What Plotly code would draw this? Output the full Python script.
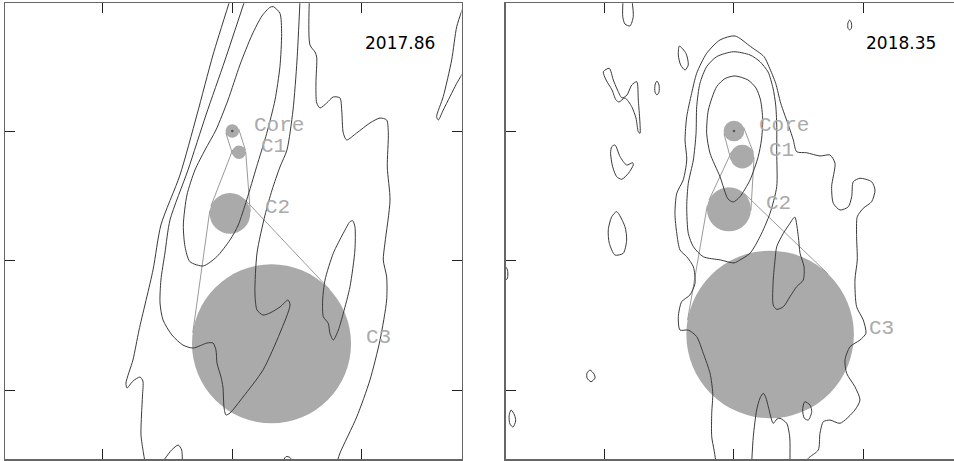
import math
import plotly.graph_objects as go

# ---------------- model-fit components (relative position, mas) ----------------
COMP_NAMES = ["Core", "C1", "C2", "C3"]
EP1_X = [0.0, 0.052, -0.018, 0.303]
EP1_Y = [0.0, -0.164, -0.636, -1.643]
EP1_R = [0.052, 0.052, 0.157, 0.614]
EP2_X = [0.0, 0.064, -0.039, 0.279]
EP2_Y = [0.0, -0.198, -0.605, -1.571]
EP2_R = [0.080, 0.091, 0.170, 0.647]
EPOCHS = ["2017.86", "2018.35"]
TICKS_X = [-1, 0, 1]
TICKS_Y = [0, -1, -2]

# ---------------- contours, epoch 2017.86 ----------------
L1W_X = [-0.018, -0.149, -0.273, -0.404, -0.551, -0.612, -0.720, -0.767, -0.821, -0.813, -0.767, -0.713, -0.690, -0.693, -0.701, -0.705, -0.686, -0.674]
L1W_Y = [1.01, 0.587, 0.124, -0.340, -0.726, -1.073, -1.537, -1.768, -1.946, -1.985, -1.931, -1.900, -1.931, -2.039, -2.193, -2.347, -2.486, -2.556]
L1E_X = [0.595, 0.600, 0.639, 0.652, 0.646, 0.652, 0.678, 0.729, 0.780, 0.832, 0.845, 0.857, 0.883, 0.961, 1.063, 1.141, 1.192, 1.205, 1.197, 1.218, 1.179, 1.166, 1.192, 1.192, 1.141, 1.063, 0.961, 0.832, 0.809]
L1E_Y = [1.01, 0.664, 0.610, 0.571, 0.371, 0.216, 0.178, 0.216, 0.263, 0.255, 0.162, -0.015, -0.069, -0.015, 0.062, 0.100, 0.085, -0.015, -0.278, -0.533, -0.865, -0.996, -1.127, -1.305, -1.614, -1.923, -2.208, -2.486, -2.556]
L2_X = [0.098, -0.056, -0.203, -0.342, -0.481, -0.520, -0.551, -0.558, -0.535, -0.466, -0.381, -0.303, -0.195, -0.149, -0.126, -0.118, -0.087, -0.072, -0.064, -0.049, -0.018, 0.083, 0.237, 0.368, 0.446, 0.431, 0.368, 0.291, 0.237, 0.191, 0.175, 0.191, 0.253, 0.307, 0.368, 0.422, 0.469, 0.500, 0.523]
L2_Y = [1.012, 0.548, 0.124, -0.301, -0.687, -0.942, -1.151, -1.328, -1.459, -1.575, -1.653, -1.676, -1.637, -1.637, -1.691, -1.792, -1.900, -1.977, -2.131, -2.193, -2.178, -2.054, -1.846, -1.560, -1.344, -1.305, -1.359, -1.405, -1.421, -1.382, -1.251, -0.942, -0.649, -0.456, -0.278, -0.147, 0.162, 0.548, 1.012]
L3_X = [0.317, 0.368, 0.381, 0.368, 0.330, 0.266, 0.188, 0.111, 0.046, -0.018, -0.120, -0.224, -0.327, -0.365, -0.378, -0.350, -0.288, -0.211, -0.126, -0.033, 0.059, 0.152, 0.229, 0.291, 0.317]
L3_Y = [0.960, 0.909, 0.754, 0.497, 0.239, -0.018, -0.276, -0.533, -0.726, -0.842, -0.971, -1.042, -1.009, -0.893, -0.726, -0.494, -0.301, -0.147, 0.008, 0.239, 0.510, 0.741, 0.888, 0.955, 0.960]
L4_X = [0.930, 0.947, 0.947, 0.909, 0.857, 0.819, 0.780, 0.754, 0.741, 0.703, 0.698, 0.716, 0.780, 0.857, 0.909, 0.930]
L4_Y = [-0.693, -0.739, -0.919, -1.202, -1.408, -1.537, -1.614, -1.562, -1.485, -1.434, -1.305, -1.151, -0.944, -0.790, -0.700, -0.693]
L5_X = [1.78, 1.733, 1.694, 1.629, 1.578, 1.591, 1.629, 1.681, 1.733, 1.78]
L5_Y = [0.95, 0.805, 0.548, 0.265, 0.110, 0.085, 0.162, 0.265, 0.368, 0.448]
L6_X = [-0.533, -0.468, -0.417, -0.391, -0.386]
L6_Y = [-2.548, -2.463, -2.425, -2.463, -2.548]
L7_X = [0.392, 0.415, 0.446, 0.461]
L7_Y = [-2.548, -2.514, -2.521, -2.548]

# ---------------- contours, epoch 2018.35 ----------------
R1_X = [-0.139, -0.154, -0.172, -0.172, -0.164, -0.185, -0.237, -0.288, -0.353, -0.417, -0.430, -0.404, -0.340, -0.301, -0.314, -0.365, -0.417, -0.442, -0.456, -0.442, -0.392, -0.365, -0.378, -0.365, -0.327, -0.288, -0.211, -0.108, 0.008, 0.129, 0.232, 0.270, 0.322, 0.361, 0.425, 0.458, 0.484, 0.561, 0.664, 0.741, 0.780, 0.754, 0.767, 0.819, 0.883, 0.909, 0.921, 0.973, 1.063, 1.089, 1.063, 0.998, 0.952, 0.947, 0.952, 0.934, 0.947, 0.998, 1.019, 0.973, 0.896, 0.857, 0.870, 0.934, 0.973, 0.934, 0.819, 0.741, 0.690, 0.664, 0.651, 0.574, 0.561]
R1_Y = [-2.556, -2.463, -2.361, -2.180, -2.025, -1.871, -1.717, -1.588, -1.537, -1.537, -1.434, -1.318, -1.266, -1.176, -1.048, -0.971, -0.919, -0.790, -0.636, -0.481, -0.378, -0.224, -0.069, 0.110, 0.291, 0.446, 0.600, 0.703, 0.734, 0.651, 0.574, 0.497, 0.368, 0.214, 0.031, -0.069, -0.160, -0.168, -0.193, -0.185, -0.249, -0.430, -0.558, -0.610, -0.585, -0.507, -0.392, -0.365, -0.392, -0.456, -0.546, -0.597, -0.662, -0.816, -0.996, -1.151, -1.357, -1.459, -1.562, -1.614, -1.666, -1.768, -1.871, -1.975, -2.077, -2.154, -2.257, -2.232, -2.245, -2.334, -2.463, -2.527, -2.556]
R2_X = [-0.005, 0.124, 0.201, 0.263, 0.301, 0.322, 0.330, 0.330, 0.330, 0.278, 0.201, 0.124, 0.046, 0.000, -0.103, -0.237, -0.314, -0.353, -0.365, -0.353, -0.314, -0.293, -0.288, -0.263, -0.211, -0.134, -0.005]
R2_Y = [0.612, 0.587, 0.535, 0.456, 0.332, 0.201, 0.046, -0.172, -0.430, -0.636, -0.816, -0.944, -0.996, -1.019, -0.996, -0.971, -0.893, -0.790, -0.585, -0.404, -0.224, -0.018, 0.188, 0.368, 0.497, 0.574, 0.612]
R3_X = [0.008, 0.108, 0.170, 0.205, 0.222, 0.212, 0.187, 0.124, 0.046, -0.005, -0.046, -0.108, -0.185, -0.211, -0.198, -0.134, -0.069, 0.008]
R3_Y = [0.425, 0.394, 0.332, 0.239, 0.085, -0.069, -0.198, -0.378, -0.507, -0.548, -0.525, -0.353, -0.172, -0.018, 0.162, 0.342, 0.405, 0.425]
R4_X = [0.471, 0.497, 0.510, 0.541, 0.535, 0.484, 0.432, 0.381, 0.330, 0.303, 0.303, 0.317, 0.330, 0.381, 0.432, 0.458, 0.471]
R4_Y = [-0.666, -0.816, -0.944, -1.048, -1.151, -1.202, -1.280, -1.357, -1.377, -1.344, -1.151, -0.996, -0.893, -0.790, -0.713, -0.674, -0.666]
R5_X = [0.137, 0.149, 0.175, 0.201, 0.226, 0.247, 0.265, 0.303, 0.332, 0.355, 0.407, 0.425, 0.432, 0.432]
R5_Y = [-2.556, -2.361, -2.154, -2.062, -2.025, -2.062, -2.129, -2.257, -2.224, -2.218, -2.257, -2.324, -2.386, -2.556]
S1_X = [-0.857, -0.859, -0.842, -0.803, -0.778, -0.788]
S1_Y = [1.012, 0.883, 0.826, 0.811, 0.883, 1.012]
S2_X = [-0.422, -0.371, -0.353, -0.378, -0.412, -0.430, -0.422]
S2_Y = [0.656, 0.600, 0.510, 0.471, 0.510, 0.587, 0.656]
S3_X = [-0.595, -0.579, -0.579, -0.595, -0.610, -0.610, -0.595]
S3_Y = [0.386, 0.355, 0.301, 0.278, 0.301, 0.355, 0.386]
S4_X = [-1.009, -0.963, -0.932, -0.903, -0.865, -0.826, -0.790, -0.751, -0.739, -0.726, -0.739, -0.757, -0.790, -0.842, -0.888, -0.911, -0.942, -0.988, -1.009]
S4_Y = [0.458, 0.484, 0.394, 0.324, 0.255, 0.278, 0.355, 0.381, 0.239, -0.018, -0.005, 0.100, 0.188, 0.255, 0.224, 0.239, 0.317, 0.394, 0.458]
S5_X = [-0.944, -0.919, -0.880, -0.829, -0.782, -0.778, -0.816, -0.867, -0.906, -0.937, -0.953, -0.944]
S5_Y = [-0.121, -0.108, -0.198, -0.263, -0.245, -0.263, -0.327, -0.373, -0.353, -0.276, -0.172, -0.121]
S6_X = [-0.906, -0.842, -0.829, -0.855, -0.919, -0.963, -0.971, -0.944, -0.906]
S6_Y = [-0.623, -0.739, -0.842, -0.944, -0.958, -0.867, -0.764, -0.662, -0.623]
S7_X = [0.893, 0.907, 0.907, 0.893, 0.880, 0.880, 0.893]
S7_Y = [0.857, 0.834, 0.795, 0.780, 0.795, 0.834, 0.857]
S8_X = [-1.112, -1.081, -1.073, -1.104, -1.135, -1.135, -1.112]
S8_Y = [-1.846, -1.876, -1.907, -1.936, -1.907, -1.869, -1.846]
S9_X = [-1.768, -1.749, -1.749, -1.768]
S9_Y = [-1.042, -1.073, -1.135, -1.158]
S10_X = [-1.722, -1.695, -1.686, -1.707, -1.730, -1.737, -1.722]
S10_Y = [-2.154, -2.193, -2.239, -2.286, -2.263, -2.201, -2.154]
S11_X = [0.548, 0.587, 0.600, 0.574, 0.543, 0.530, 0.541, 0.548]
S11_Y = [-2.090, -2.116, -2.168, -2.232, -2.218, -2.154, -2.098, -2.090]

# ---------------- styling ----------------
CONTOUR_COLOR = "#3a3a3a"
COMP_COLOR = "#aaaaaa"
LINK_COLOR = "#9a9a9a"
LABEL_GAP = 0.10
LABEL_DY = 0.045

panels = [
    dict(xa="x", ya="y", cx=EP1_X, cy=EP1_Y, cr=EP1_R, epoch=EPOCHS[0], ex=437 / 954,
         contours=[(L1W_X, L1W_Y), (L1E_X, L1E_Y), (L2_X, L2_Y), (L3_X, L3_Y), (L4_X, L4_Y),
                   (L5_X, L5_Y), (L6_X, L6_Y), (L7_X, L7_Y)]),
    dict(xa="x2", ya="y2", cx=EP2_X, cy=EP2_Y, cr=EP2_R, epoch=EPOCHS[1], ex=938 / 954,
         contours=[(R1_X, R1_Y), (R2_X, R2_Y), (R3_X, R3_Y), (R4_X, R4_Y), (R5_X, R5_Y),
                   (S1_X, S1_Y), (S2_X, S2_Y), (S3_X, S3_Y), (S4_X, S4_Y), (S5_X, S5_Y),
                   (S6_X, S6_Y), (S7_X, S7_Y), (S8_X, S8_Y), (S9_X, S9_Y), (S10_X, S10_Y),
                   (S11_X, S11_Y)]),
]


def outer_tangents(x1, y1, r1, x2, y2, r2):
    dx, dy = x2 - x1, y2 - y1
    d = math.hypot(dx, dy)
    ux, uy = dx / d, dy / d
    c = (r1 - r2) / d
    s = math.sqrt(max(0.0, 1 - c * c))
    out = []
    for sign in (1, -1):
        nx = c * ux - sign * s * uy
        ny = c * uy + sign * s * ux
        out.append(((x1 + r1 * nx, y1 + r1 * ny), (x2 + r2 * nx, y2 + r2 * ny)))
    return out


fig = go.Figure()
annotations = []
for p in panels:
    xa, ya = p["xa"], p["ya"]
    for x, y, r in zip(p["cx"], p["cy"], p["cr"]):
        fig.add_shape(type="circle", xref=xa, yref=ya, x0=x - r, x1=x + r, y0=y - r, y1=y + r,
                      fillcolor=COMP_COLOR, line=dict(width=0), layer="below")
    lx, ly = [], []
    for i in range(len(p["cx"]) - 1):
        for (a, b) in outer_tangents(p["cx"][i], p["cy"][i], p["cr"][i],
                                     p["cx"][i + 1], p["cy"][i + 1], p["cr"][i + 1]):
            lx += [a[0], b[0], None]
            ly += [a[1], b[1], None]
    fig.add_trace(go.Scatter(x=lx, y=ly, xaxis=xa, yaxis=ya, mode="lines",
                             line=dict(color=LINK_COLOR, width=1), hoverinfo="skip", showlegend=False))
    for cxs, cys in p["contours"]:
        fig.add_trace(go.Scatter(x=cxs, y=cys, xaxis=xa, yaxis=ya, mode="lines",
                                 line=dict(color=CONTOUR_COLOR, width=1, shape="spline", smoothing=0.7),
                                 hoverinfo="skip", showlegend=False))
    fig.add_trace(go.Scatter(x=[p["cx"][0]], y=[p["cy"][0]], xaxis=xa, yaxis=ya, mode="markers",
                             marker=dict(color="#555555", size=2.5), hoverinfo="skip", showlegend=False))
    for name, x, y, r in zip(COMP_NAMES, p["cx"], p["cy"], p["cr"]):
        annotations.append(dict(xref=xa, yref=ya, x=x + r + LABEL_GAP, y=y + LABEL_DY, text=name,
                                showarrow=False, xanchor="left", yanchor="middle",
                                font=dict(family="Liberation Mono", size=21, color=COMP_COLOR)))
    annotations.append(dict(xref="paper", yref="paper", x=p["ex"], y=1 - 43 / 461, text=p["epoch"],
                            showarrow=False, xanchor="right", yanchor="middle",
                            font=dict(family="DejaVu Sans", size=17, color="#000000")))

axis_common = dict(showgrid=False, zeroline=False, showticklabels=False, ticks="inside",
                   ticklen=10, tickwidth=1, tickcolor="#222222", showline=True,
                   linecolor="#666666", linewidth=1.5, fixedrange=True)
ydom = [1 - 459.3 / 461, 1 - 3.3 / 461]

fig.update_layout(
    width=954, height=461,
    margin=dict(l=0, r=0, t=0, b=0),
    paper_bgcolor="white", plot_bgcolor="white",
    showlegend=False,
    hovermode=False,
    annotations=annotations,
    xaxis=dict(axis_common, domain=[5 / 954, 461.5 / 954], range=[-1.755, 1.770],
               tickvals=TICKS_X, mirror="ticks", anchor="y"),
    yaxis=dict(axis_common, domain=ydom, range=[-2.535, 0.986],
               tickvals=TICKS_Y, mirror="ticks", anchor="x"),
    xaxis2=dict(axis_common, domain=[505.7 / 954, 1.0], range=[-1.763, 1.699],
                tickvals=TICKS_X, mirror="ticks", anchor="y2"),
    yaxis2=dict(axis_common, domain=ydom, range=[-2.535, 0.986],
                tickvals=TICKS_Y, mirror=False, anchor="x2"),
)

fig.write_html("out.html", config={"displayModeBar": False, "staticPlot": True},
               post_script="document.body.style.margin='0';document.body.style.overflow='hidden';")
